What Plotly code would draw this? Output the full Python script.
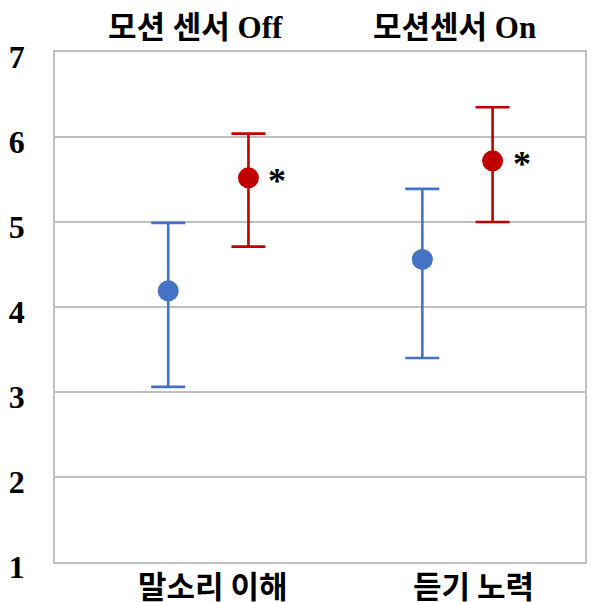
import plotly.graph_objects as go

categories = ["말소리 이해", "듣기 노력"]
headers = ["모션 센서 Off", "모션센서 On"]
off_mean = [4.19, 4.56]
off_upper = [4.99, 5.39]
off_lower = [3.06, 3.40]
on_mean = [5.52, 5.72]
on_upper = [6.04, 6.35]
on_lower = [4.71, 5.00]
significance = ["*", "*"]
y_ticks = [1, 2, 3, 4, 5, 6, 7]

BLUE = "#4472C4"
RED = "#C00000"
GRID = "#BFBFBF"
SERIF = "Liberation Serif, Noto Sans CJK KR, serif"
SANS = "Noto Sans CJK KR, sans-serif"

cat_x = [1, 2]
offsets = {"off": [-0.161, -0.141], "on": [0.161, 0.141]}


def series(mean, upper, lower, color, key):
    xs = [c + o for c, o in zip(cat_x, offsets[key])]
    return go.Scatter(
        x=xs, y=mean, mode="markers",
        marker=dict(color=color, size=21, line=dict(width=0)),
        error_y=dict(type="data", symmetric=False,
                     array=[u - m for u, m in zip(upper, mean)],
                     arrayminus=[m - l for m, l in zip(mean, lower)],
                     color=color, thickness=2.6, width=17),
        showlegend=False, hoverinfo="skip",
    )


fig = go.Figure()
fig.add_trace(series(off_mean, off_upper, off_lower, BLUE, "off"))
fig.add_trace(series(on_mean, on_upper, on_lower, RED, "on"))

# significance asterisks
on_x = [c + o for c, o in zip(cat_x, offsets["on"])]
for x, y, s in zip(on_x, on_mean, significance):
    fig.add_annotation(x=x, y=y, text="<b>" + s + "</b>", showarrow=False, xref="x", yref="y",
                       xshift=29, yshift=-3,
                       font=dict(family=SERIF, size=36, color="black"))

# category labels (bottom)
for xpos, txt in zip([1.02, 2.066], categories):
    fig.add_annotation(x=xpos, y=0, xref="x", yref="paper", text="<b>" + txt + "</b>",
                       showarrow=False, yanchor="middle", yshift=-22,
                       font=dict(family=SANS, size=31, color="black"))

# header labels (top)
for xpos, txt in zip([0.95, 1.99], headers):
    fig.add_annotation(x=xpos, y=1, xref="x", yref="paper", text="<b>" + txt + "</b>",
                       showarrow=False, yanchor="middle", yshift=25,
                       font=dict(family=SERIF, size=31, color="black"))

fig.update_xaxes(range=[0.3845, 2.512], showgrid=False, zeroline=False,
                 showticklabels=False, showline=True, linecolor=GRID, linewidth=1.5,
                 mirror=True, ticks="")
fig.update_yaxes(range=[1, 7], tickvals=y_ticks,
                 ticktext=[str(v) for v in y_ticks],
                 showgrid=True, gridcolor=GRID,
                 gridwidth=1.5, zeroline=False, showline=True, linecolor=GRID,
                 linewidth=1.5, mirror=True, ticks="",
                 ticklabelstandoff=22, ticklabelshift=5,
                 tickfont=dict(family="Liberation Serif", size=32, color="black",
                               weight="bold"))

fig.update_layout(width=596, height=602, margin=dict(l=53, r=9, t=52, b=40),
                  plot_bgcolor="white", paper_bgcolor="white")

fig.write_html("out.html")
